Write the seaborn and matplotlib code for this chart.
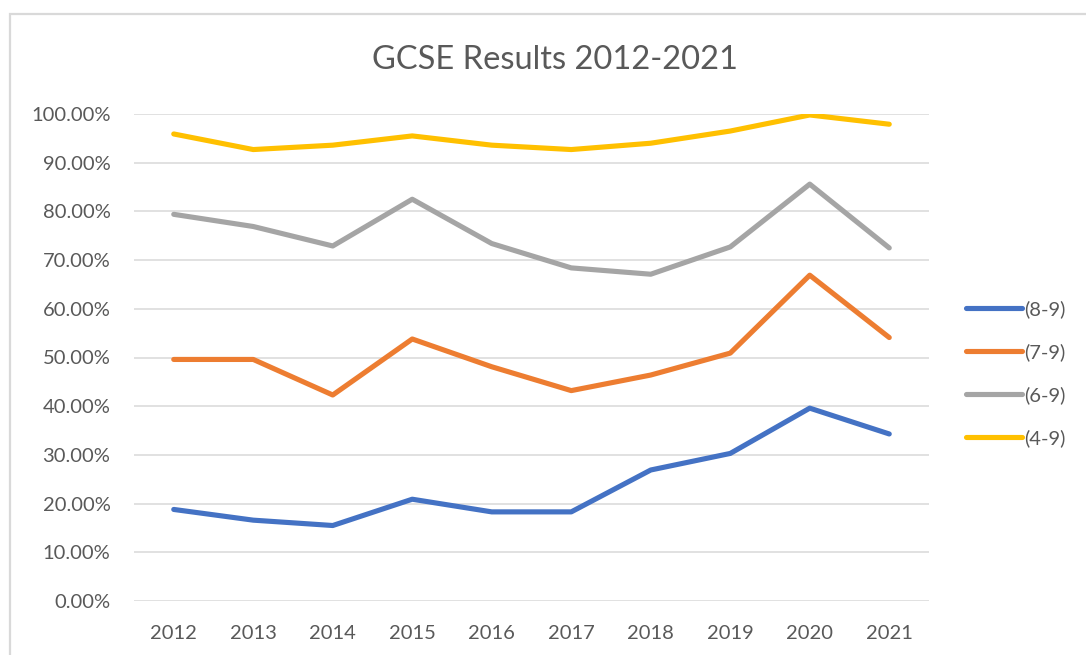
import pandas as pd
import matplotlib.pyplot as plt
import matplotlib.patches as mpatches
from matplotlib.lines import Line2D
from matplotlib.ticker import PercentFormatter
import seaborn as sns

# data (fractions)
years = [2012, 2013, 2014, 2015, 2016, 2017, 2018, 2019, 2020, 2021]
grade_8_9 = [0.188, 0.166, 0.155, 0.209, 0.183, 0.183, 0.269, 0.303, 0.396, 0.343]
grade_7_9 = [0.496, 0.496, 0.423, 0.538, 0.481, 0.432, 0.464, 0.509, 0.669, 0.541]
grade_6_9 = [0.794, 0.769, 0.729, 0.825, 0.734, 0.684, 0.671, 0.727, 0.856, 0.725]
grade_4_9 = [0.959, 0.927, 0.936, 0.955, 0.936, 0.927, 0.940, 0.965, 0.998, 0.979]

series_names = ['(8-9)', '(7-9)', '(6-9)', '(4-9)']
series_values = [grade_8_9, grade_7_9, grade_6_9, grade_4_9]
colors = ['#4472C4', '#ED7D31', '#A5A5A5', '#FFC000']

rows = []
for name, vals in zip(series_names, series_values):
    for yr, v in zip(years, vals):
        rows.append({'Year': yr, 'Share': v, 'Grade': name})
df = pd.DataFrame(rows)

sns.set_style('white')
plt.rcParams['font.family'] = ['Lato', 'DejaVu Sans']
text_color = '#595959'

fig = plt.figure(figsize=(10.86, 6.55), dpi=100)
ax = fig.add_axes([134 / 1086, 1 - 601 / 655, (929 - 134) / 1086, (601 - 114) / 655])

sns.lineplot(data=df, x='Year', y='Share', hue='Grade', hue_order=series_names,
             palette=colors, linewidth=3.7, ax=ax, legend=False)
for line in ax.lines:
    line.set_solid_capstyle('round')
    line.set_solid_joinstyle('round')

ax.set_xlim(years[0] - 0.5, years[-1] + 0.5)
ax.set_ylim(0, 1.0)
ax.set_yticks([i / 10 for i in range(11)])
ax.set_xticks(years)
ax.yaxis.set_major_formatter(PercentFormatter(1.0, decimals=2))
ax.grid(axis='y', color='#D9D9D9', linewidth=1.1)
ax.set_axisbelow(True)
for s in ax.spines.values():
    s.set_visible(False)
ax.tick_params(axis='both', length=0, labelsize=14.5, labelcolor=text_color)
ax.tick_params(axis='y', pad=17)
ax.tick_params(axis='x', pad=17)
ax.set_xlabel('')
ax.set_ylabel('')

# title
fig.text(555 / 1086, 1 - 60 / 655, 'GCSE Results 2012-2021', ha='center', va='center',
         fontsize=23.5, color=text_color)

# legend
handles = [Line2D([0], [0], color=c, linewidth=3.7, solid_capstyle='round') for c in colors]
fig.legend(handles, series_names, loc='center left',
           bbox_to_anchor=(966 / 1086, 1 - 373.7 / 655), frameon=False,
           fontsize=14.5, labelcolor=text_color, handlelength=2.8, handletextpad=0.1,
           labelspacing=1.25, borderpad=0, borderaxespad=0)

# chart area border (only top and left edges visible)
border = mpatches.Rectangle((10 / 1086, -0.2), 1.2, 1.2 - 14 / 655,
                            transform=fig.transFigure, fill=False,
                            edgecolor='#D9D9D9', linewidth=1.6, clip_on=False)
fig.patches.append(border)

fig.savefig('out.png', dpi=100)
